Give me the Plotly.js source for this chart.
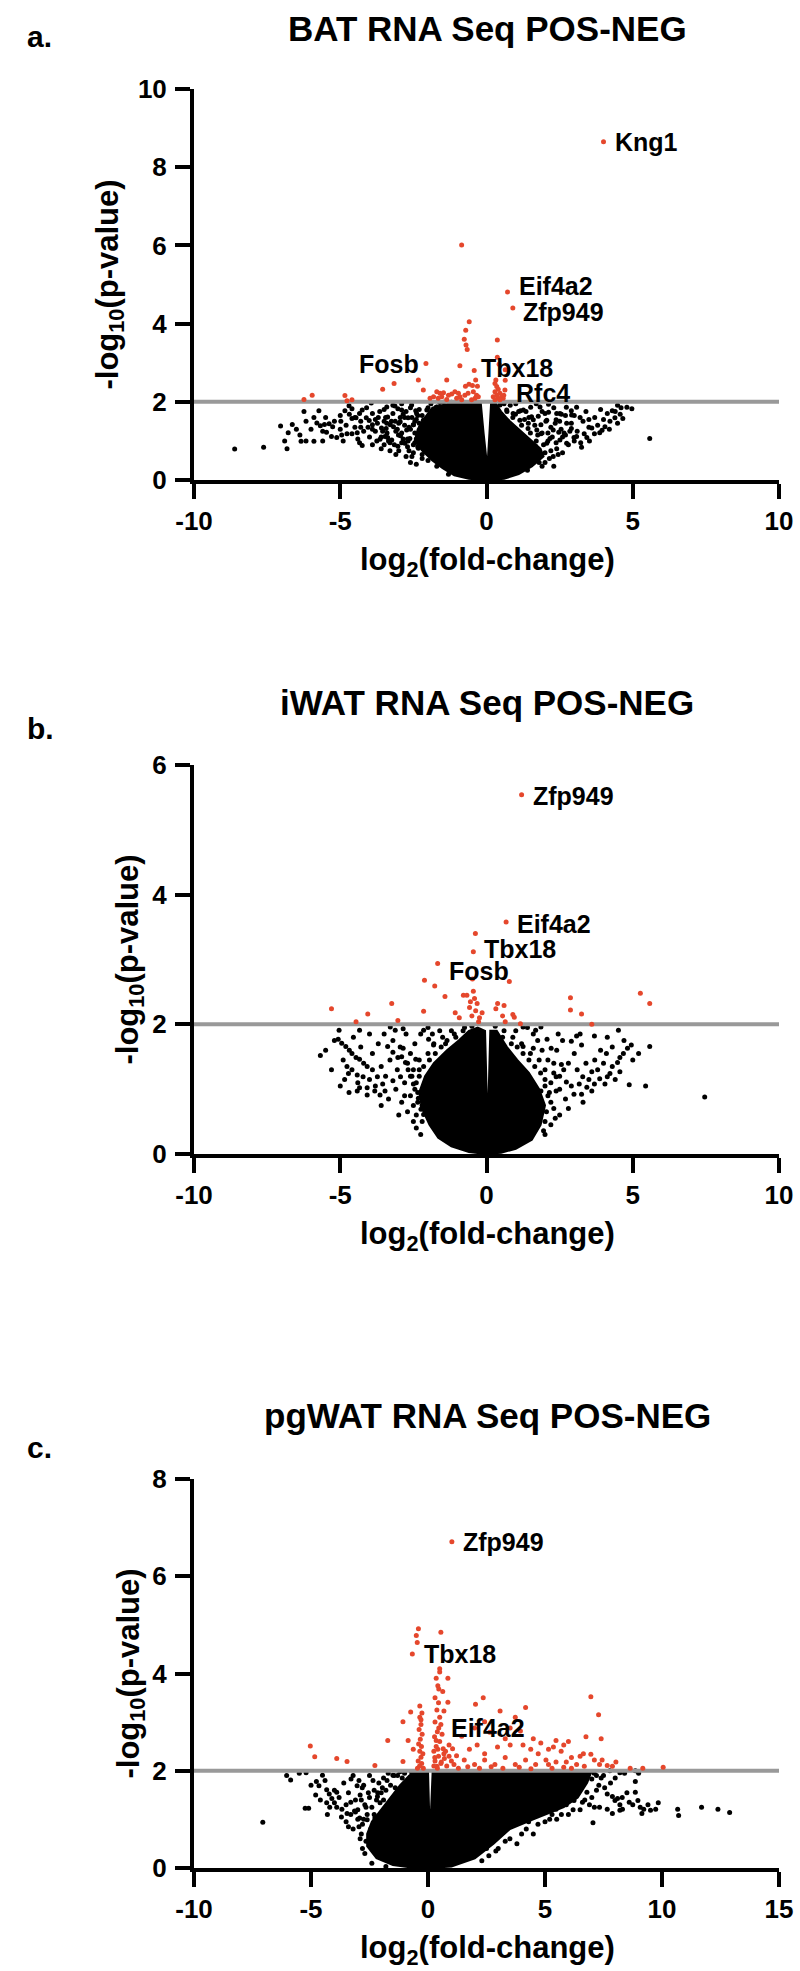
<!DOCTYPE html>
<html>
<head>
<meta charset="utf-8">
<script src="https://cdn.plot.ly/plotly-3.0.1.min.js"></script>
<style>html,body{margin:0;padding:0;background:#fff;}#chart{width:800px;height:1971px;}</style>
</head>
<body>
<div id="chart"></div>
<script>
// ---------------- DATA ----------------
const threshold = 2;
const panelTitles = ['BAT RNA Seq POS-NEG', 'iWAT RNA Seq POS-NEG', 'pgWAT RNA Seq POS-NEG'];
const panelLetters = ['a.', 'b.', 'c.'];
const xRanges = [[-10, 10], [-10, 10], [-10, 15]];
const yRanges = [[0, 10], [0, 6], [0, 8]];
const xTicks = [[-10, -5, 0, 5, 10], [-10, -5, 0, 5, 10], [-10, -5, 0, 5, 10, 15]];
const xTickText = [['-10', '-5', '0', '5', '10'], ['-10', '-5', '0', '5', '10'], ['-10', '-5', '0', '5', '10', '15']];
const yTicks = [[0, 2, 4, 6, 8, 10], [0, 2, 4, 6], [0, 2, 4, 6, 8]];

// Panel a (BAT)
const aRed = [[4.0,8.65],[0.72,4.81],[0.9,4.4],[-0.85,6.01],[-0.59,4.05],[-0.71,3.83],[-0.76,3.6],[-0.7,3.45],[-0.66,3.34],
 [0.37,3.58],[0.37,3.14],[0.43,2.96],[-0.91,2.92],[-0.42,2.8],[0.64,2.82],[-2.07,2.98],[-2.33,2.56],[-1.36,2.56],[-3.16,2.47],
 [-3.55,2.32],[-2.16,2.3],[-6.24,2.06],[-5.96,2.17],[-4.84,2.16],[-4.77,2.03],[-4.6,2.05],[-0.37,2.56],[-0.6,2.45],[-0.48,2.42],
 [-0.31,2.4],[-0.72,2.4],[-1.7,2.26],[-1.59,2.22],[-1.47,2.23],[-1.3,2.17],[-1.19,2.2],[-1.08,2.26],[-0.96,2.22],[-0.91,2.13],
 [-0.74,2.17],[-0.63,2.22],[-0.45,2.26],[-0.34,2.17],[-0.28,2.13],[-1.81,2.13],[-1.93,2.09],[-1.65,2.09],[-1.53,2.13],[-1.36,2.06],
 [-1.02,2.09],[-0.85,2.05],[-0.51,2.05],[-0.39,2.09],[0.29,2.47],[0.35,2.39],[0.4,2.32],[0.29,2.26],[0.46,2.22],[0.35,2.17],
 [0.52,2.13],[0.57,2.09],[0.23,2.13],[0.4,2.09],[0.59,2.17],[0.63,2.3],[0.32,2.56],[0.46,2.05],[0.29,2.05],[0.64,2.55]];
const aBlack = [[-8.61,0.79],[-7.62,0.84],[-6.82,0.8],[-7.04,1.38],[-6.78,1.21],[-6.64,1.42],[-6.38,1.15],[-6.24,1.75],[-6.34,0.99],
 [-6.17,1.0],[-5.8,1.46],[-5.68,1.39],[-5.54,1.42],[-5.38,1.44],[-5.26,1.36],[-5.47,1.22],[-5.3,1.11],[-5.12,1.09],[-4.95,1.15],
 [-4.77,1.18],[-4.6,1.18],[-4.42,1.21],[-4.84,1.77],[-4.69,1.68],[-4.6,1.57],[-4.46,1.59],[-4.34,1.7],[-4.25,1.79],[-4.11,1.59],
 [-4.01,1.52],[-3.9,1.41],[-3.73,1.45],[-3.59,1.33],[-3.43,1.32],[-3.29,1.41],[-3.12,1.5],[-3.38,1.61],[-3.94,1.97],[-3.2,1.91],
 [-3.03,1.82],[-2.85,1.68],[-2.68,1.59],[-2.5,1.41],[-2.42,1.77],[-4.34,0.95],[-4.25,0.88],[-3.64,1.04],[-3.38,1.09],[-2.94,1.13],
 [-2.68,1.0],[-2.33,1.04],[-2.16,1.22],[-1.98,1.5],[-1.81,1.77],[-1.72,1.86],[-5.9,0.99],[-4.98,1.5],[-4.6,1.82],[-5.73,1.77],
 [-6.17,1.5],[-3.03,0.86],[-2.33,0.81],[-1.98,0.77],
 [5.58,1.06],[4.97,1.82],[4.8,1.86],[4.48,1.91],[4.3,1.77],[4.13,1.7],[4.57,1.68],[4.39,1.59],[4.66,1.57],[4.48,1.45],[4.22,1.5],
 [4.05,1.36],[3.95,1.27],[3.87,1.21],[3.69,1.18],[3.43,1.09],[3.52,1.0],[3.22,0.95],[3.25,0.84],[2.99,1.09],[2.9,1.32],[3.08,1.86],
 [2.9,1.77],[2.73,1.86],[2.56,1.68],[2.47,1.22],[2.7,1.15],[2.38,1.54],[2.12,1.73],[2.03,1.5],[1.86,1.41],[1.77,1.63],[1.6,1.54],
 [1.51,1.86],[1.16,1.77],[1.42,1.32],[1.86,1.18],[2.17,1.06],[2.38,0.95],[1.68,0.86],[0.81,1.91],[0.99,1.68],[0.72,1.5],[2.12,1.94],
 [3.34,1.18],[3.6,1.33],
 [-3.41,1.87],[-3.13,1.89],[-2.9,1.79],[-2.56,1.92],[-2.39,1.7],[-3.41,1.45],[-3.18,1.36],[-2.95,1.49],[-2.73,1.28],[-2.5,1.41],
 [-3.47,1.11],[-3.24,1.02],[-3.01,1.15],[-2.79,0.94],[-2.62,1.06],[-2.27,1.11],[-2.16,1.53],[-2.04,1.79],[1.26,1.79],[1.54,1.62],
 [1.83,1.87],[2.06,1.53],[2.28,1.28],[2.51,1.7],[2.74,1.45],[2.91,1.66],[3.08,1.11],[2.74,0.94],[2.51,1.02],[2.06,0.94],[1.72,1.28],
 [1.43,1.45],[1.14,1.53],[0.91,1.7],[0.69,1.79],[0.46,1.92],[1.83,0.68],[2.28,0.6],[-1.7,1.87],[-1.36,1.83],[-1.02,1.92],[-0.68,1.86],
 [-1.47,1.99],[-0.79,1.99],[-0.45,1.94],[-2.5,0.7],[-2.2,0.55],[2.0,0.45],[2.3,0.35],
 [-6.0,1.3],[-5.9,1.6],[-5.6,1.25],[-5.5,1.6],[-5.2,1.5],[-5.0,1.3],[-5.0,1.65],[-4.9,1.0],[-4.8,1.4],[-4.7,1.9],[-4.5,1.35],
 [-4.4,1.05],[-4.3,1.5],[-4.2,1.25],[-4.1,1.85],[-4.0,1.1],[-3.9,1.7],[-3.8,1.25],[-3.7,1.6],[-3.6,1.1],[-3.5,1.5],[-3.5,1.8],
 [-3.4,1.2],[-3.3,0.95],[-3.2,1.7],[-3.1,1.25],[-3.0,1.45],[-3.0,0.75],[-2.9,1.95],[-2.85,1.05],[-2.8,1.6],[-2.7,0.85],[-2.65,1.35],
 [-2.6,1.85],[-2.55,0.6],[-2.45,1.2],[-2.4,1.55],[-2.35,0.85],[-2.3,1.8],[-2.25,1.35],[-2.2,1.65],[-2.6,0.45],[-2.4,0.4],[-3.6,0.8],
 [-3.9,0.9],[-5.6,1.0],[-6.5,1.3],[-6.9,1.0],
 [1.9,1.2],[2.0,1.7],[2.1,1.0],[2.2,1.35],[2.3,1.85],[2.4,0.8],[2.5,1.5],[2.6,1.1],[2.7,1.65],[2.8,0.9],[2.9,1.45],[3.0,1.65],
 [3.1,1.25],[3.3,1.5],[3.4,1.75],[3.5,1.35],[3.7,1.6],[3.8,1.4],[3.9,1.8],[4.0,1.55],[4.2,1.3],[4.4,1.75],[4.6,1.85],[1.6,0.6],
 [1.9,0.35],[2.2,0.75],[2.6,0.7],[1.3,1.55],[1.1,1.75],[0.6,1.95],[1.0,1.95],[1.7,1.95],
 [-2.45,0.95],[-2.35,1.15],[-2.3,1.45],[-2.1,1.45],[-2.0,1.85],[-1.9,1.95],[-1.6,1.98],[-1.2,1.99],[-0.5,1.99],[-2.2,0.65],
 [-2.0,0.5],[-1.7,0.35],[-1.3,0.15],[1.7,1.0],[1.5,1.2],[1.2,1.4],[0.9,1.6],[0.7,1.75],[2.0,0.7],[1.8,0.45],[1.4,0.25],
 [-3.9,1.3],[-3.75,1.0],[-3.65,1.75],[-3.55,1.25],[-3.45,1.6],[-3.35,1.0],[-3.25,1.5],[-3.15,0.9],[-3.05,1.3],[-2.95,1.6],
 [-2.9,1.2],[-2.8,1.4],[-2.75,1.75],[-2.7,1.05],[-2.6,1.3],[-2.55,1.6],[-2.5,0.9],[-2.45,1.5],[-2.4,1.05],[-2.35,1.65],[-2.65,0.75],
 [-2.75,0.6],[-2.9,0.95],[-3.1,0.65],[-3.3,0.75],[-3.5,0.9],[-3.8,1.55],[-4.05,1.35],[-4.3,1.35],[-4.5,1.6],
 [1.95,0.9],[2.1,1.2],[2.25,1.1],[2.35,1.45],[2.45,0.65],[2.55,1.3],[1.75,1.15],[1.65,1.4],[1.45,1.6],[1.35,1.75],[2.15,0.55],
 [2.4,1.7],[2.65,1.2],[2.85,1.25],[3.0,1.0],[3.2,1.6],[3.5,1.55],[1.9,1.75]];
const aCore = [[0,0],[-0.6,0.03],[-1.1,0.12],[-1.5,0.3],[-1.85,0.5],[-2.2,0.75],[-2.45,1.0],[-2.35,1.3],[-2.1,1.6],[-1.85,1.85],
 [-1.3,1.95],[-0.8,1.97],[-0.2,2.0],[-0.1,1.2],[0.03,0.3],[0.1,1.2],[0.16,2.0],[0.3,1.98],[0.5,1.75],[0.8,1.5],[1.1,1.3],
 [1.45,1.05],[1.85,0.8],[1.95,0.6],[1.55,0.35],[1.1,0.15],[0.6,0.03],[0,0]];
const aGenes = ['Kng1','Eif4a2','Zfp949','Fosb','Tbx18','Rfc4'];
const aGenePts = [[4.0,8.65],[0.72,4.81],[0.9,4.4],[-2.07,2.98],[-0.42,2.8],[0.63,2.3]];

// Panel b (iWAT)
const bRed = [[1.2,5.54],[0.67,3.58],[-0.38,3.4],[-0.45,3.12],[-1.67,2.94],[-2.12,2.68],[-1.77,2.59],[-0.48,2.7],[0.78,2.66],
 [-1.42,2.43],[-0.79,2.45],[-0.67,2.45],[-0.45,2.51],[-0.41,2.4],[-0.55,2.35],[-0.32,2.32],[-0.58,2.26],[-0.37,2.21],[-0.5,2.13],
 [-0.24,2.1],[-0.93,2.1],[-0.27,2.04],[-0.15,2.18],[-1.07,2.18],[0.38,2.32],[0.6,2.29],[0.32,2.24],[0.55,2.13],[0.9,2.15],
 [0.95,2.11],[0.64,2.04],[1.16,2.01],[-5.3,2.24],[-4.46,2.04],[-4.06,2.16],[-3.24,2.32],[-3.03,2.06],[-2.15,2.2],[2.87,2.41],
 [2.87,2.22],[3.25,2.16],[3.6,2.0],[5.26,2.48],[5.58,2.32]];
const bBlack = [[7.46,0.88],[-5.68,1.52],[5.58,1.66],[5.44,1.05],[4.88,1.07],[4.51,1.91],[4.95,1.68],[4.82,1.63],[4.68,1.55],
 [4.56,1.49],[4.48,1.41],[4.56,1.27],[4.3,1.35],[4.22,1.24],[4.13,1.19],[4.05,1.08],[3.87,1.16],[3.69,1.08],[3.6,0.97],[3.43,1.03],
 [3.25,0.92],[3.17,1.08],[3.29,1.19],[3.6,1.27],[4.13,1.8],[3.69,1.82],[3.25,1.68],[2.9,1.74],[3.08,1.82],[2.56,1.38],[2.64,1.3],
 [2.38,1.19],[2.21,1.63],[2.07,1.77],[1.86,1.96],[1.6,1.63],[1.25,1.66],[1.25,1.96],[1.68,1.91],[1.86,0.97],[1.95,0.36],[2.38,0.97],
 [2.99,0.92],[2.73,1.11],
 [-5.07,1.77],[-4.95,1.71],[-4.81,1.66],[-4.69,1.6],[-4.6,1.55],[-4.46,1.49],[-4.34,1.46],[-4.77,1.35],[-4.72,1.24],[-4.42,1.22],
 [-4.22,1.19],[-4.08,1.35],[-3.9,1.3],[-3.73,1.19],[-3.55,1.08],[-3.47,0.97],[-4.34,1.02],[-4.42,0.97],[-4.08,1.02],[-3.82,0.97],
 [-3.38,1.66],[-3.2,1.57],[-3.03,1.49],[-2.85,1.63],[-2.77,1.41],[-2.68,1.3],[-2.94,1.19],[-3.2,1.13],[-3.29,1.96],[-3.12,1.91],
 [-2.85,1.93],[-4.34,1.91],[-5.04,1.91],[-2.5,1.08],[-2.33,0.86],[-2.24,0.69],[-2.15,0.61],[-2.42,1.46],[-2.15,1.91],[-1.98,1.77],
 [-1.81,1.68],[-4.08,0.91],[-3.64,0.91],
 [-2.4,1.1],[-2.6,0.9],[-2.5,1.3],[-2.3,1.45],[-2.0,1.55],[-1.8,1.7],[-1.5,1.8],[-1.2,1.9],[-2.2,0.5],[-2.4,0.6],[2.1,0.9],
 [2.2,1.1],[2.0,1.3],[1.8,1.45],[1.5,1.55],[1.2,1.7],[0.9,1.8],[0.6,1.9],[2.3,0.7],[2.0,0.5],[-0.5,1.97],[-0.8,1.9],[0.3,1.97],
 [-5.5,1.6],[-5.3,1.3],[-5.2,1.75],[-4.9,1.45],[-4.85,1.15],[-4.6,1.3],[-4.55,1.8],[-4.4,1.1],[-4.3,1.65],[-4.2,1.4],[-4.0,1.85],
 [-4.0,1.15],[-3.9,1.55],[-3.8,1.05],[-3.7,1.7],[-3.6,1.35],[-3.5,1.85],[-3.45,1.2],[-3.35,0.85],[-3.3,1.45],[-3.2,1.75],[-3.1,1.0],
 [-3.05,1.3],[-2.95,1.65],[-2.9,0.8],[-2.8,1.1],[-2.75,1.85],[-2.7,0.65],[-2.6,1.55],[-2.55,1.2],[-2.5,0.75],[-2.45,1.7],[-2.35,0.95],
 [-2.3,1.3],[-2.25,1.85],[-2.2,0.75],[-2.0,1.95],[-1.85,1.85],[-1.6,1.9],[-1.4,1.7],[-1.1,1.85],[-2.4,0.4],[-2.25,0.3],[-3.0,0.6],
 [-3.6,0.75],[-4.7,0.95],[-5.0,1.05],
 [1.9,1.6],[2.0,1.05],[2.1,1.45],[2.2,0.8],[2.3,1.25],[2.4,1.6],[2.5,1.0],[2.6,1.75],[2.7,0.85],[2.8,1.4],[2.9,1.05],[3.0,1.55],
 [3.1,1.3],[3.2,1.85],[3.4,1.4],[3.5,1.15],[3.7,1.45],[3.8,1.3],[3.9,1.6],[4.0,1.4],[4.1,1.55],[4.3,1.65],[4.4,1.15],[4.7,1.75],
 [5.0,1.45],[5.2,1.55],[1.6,1.85],[1.4,1.95],[1.0,1.9],[2.2,0.45],[2.0,0.3],[2.5,0.6],[2.8,0.7],[3.3,0.8],
 [-2.5,0.5],[-2.35,0.8],[-2.45,1.0],[-2.6,1.2],[-2.3,1.2],[-2.15,1.35],[-1.95,1.45],[-1.75,1.55],[-1.55,1.65],[-1.35,1.75],
 [-1.05,1.8],[-0.75,1.95],[-2.7,1.4],[-2.9,1.5],[-2.8,0.9],[2.05,0.65],[2.15,0.95],[2.0,1.15],[1.85,1.25],[1.65,1.35],[1.45,1.45],
 [1.25,1.55],[1.05,1.65],[0.85,1.7],[0.55,1.8],[2.3,1.4],[2.5,1.2],[2.35,0.55],[1.75,1.75],[2.45,1.85]];
const bCore = [[0,0],[-0.6,0.03],[-1.2,0.12],[-1.65,0.25],[-1.95,0.45],[-2.2,0.7],[-2.3,0.95],[-2.1,1.2],[-1.8,1.4],[-1.35,1.6],
 [-0.95,1.75],[-0.6,1.9],[-0.3,1.95],[-0.05,1.9],[0.04,0.35],[0.13,1.9],[0.35,1.9],[0.7,1.65],[1.05,1.45],[1.45,1.25],[1.8,1.0],
 [2.0,0.75],[1.85,0.45],[1.55,0.22],[1.0,0.08],[0.5,0.02],[0,0]];
const bGenes = ['Zfp949','Eif4a2','Tbx18','Fosb'];
const bGenePts = [[1.2,5.54],[0.67,3.58],[-0.45,3.12],[-1.67,2.94]];

// Panel c (pgWAT)
const cRed = [[1.02,6.71],[-0.41,4.92],[-0.5,4.78],[0.55,4.85],[-0.46,4.64],[-0.67,4.4],[0.5,4.1],[0.5,4.03],[0.85,3.9],
 [0.46,3.68],[0.63,3.63],[0.85,3.41],[2.36,3.5],[2.03,3.37],[6.96,3.52],[7.29,3.15],[4.17,3.3],[3.73,3.1],[3.08,3.23],[7.4,2.66],
 [6.75,2.7],[6.64,2.35],[-0.35,3.33],[-0.26,3.19],[-0.74,3.21],[-1.07,3.01],[-1.72,2.62],[-5.03,2.51],[-4.84,2.29],[-3.9,2.25],
 [-3.46,2.19],[-2.27,2.11],[-1.07,2.19],[-0.85,2.62],[-0.63,2.44],[9.18,2.05],[10.05,2.07],[8.64,2.05],[8.03,2.18],[7.88,2.09],
 [7.33,2.13],[7.11,2.22],[6.96,2.34],[5.69,2.4],[5.8,2.53],[5.47,2.62],[5.36,2.49],[5.15,2.44],[4.82,2.57],[4.71,2.35],[4.5,2.66],
 [4.39,2.44],[4.06,2.53],[3.95,2.82],[3.51,2.53],[3.3,2.66],[2.97,2.49],[2.64,2.79],[2.42,2.35],[2.1,2.53],[1.77,2.44],[1.44,2.71],
 [1.22,2.31],[5.91,2.18],[6.13,2.27],[6.35,2.13],[5.47,2.18],[5.04,2.22],[4.6,2.13],[4.17,2.22],[3.73,2.13],[3.3,2.27],[2.86,2.13],
 [2.42,2.22],[1.99,2.13],[1.55,2.22],[1.11,2.13],[0.9,2.53],[0.68,2.35],[0.57,2.18],[0.46,2.88],[0.35,2.62],[0.42,2.44],[0.29,2.27],
 [0.38,2.09],[0.68,3.23],[1.99,2.88],[2.42,3.01],[3.51,2.88],[5.15,2.13],[6.68,2.09],[6.13,2.05],[7.44,2.22],[7.66,2.11],
 [-0.35,3.1],[-0.3,2.95],[-0.38,2.85],[-0.25,2.75],[-0.33,2.65],[-0.4,2.55],[-0.28,2.5],[-0.35,2.4],[-0.22,2.35],[-0.3,2.28],
 [-0.42,2.2],[-0.27,2.15],[-0.36,2.1],[-0.2,2.05],[-0.45,2.05],[-0.3,3.05],
 [0.35,3.9],[0.42,3.75],[0.3,3.5],[0.45,3.4],[0.38,3.25],[0.5,3.1],[0.3,3.0],[0.55,2.95],[0.4,2.8],[0.6,2.75],[0.28,2.7],[0.5,2.6],
 [0.35,2.5],[0.65,2.45],[0.25,2.4],[0.45,2.3],[0.7,2.25],[0.3,2.2],[0.55,2.15],[0.25,2.1],[0.4,2.05],[0.8,2.1],[0.75,2.4],[0.9,2.3],
 [1.0,2.2],[1.05,2.45],[1.3,2.05],[1.7,2.08],[2.2,2.05],[2.7,2.08],[3.2,2.05],[3.9,2.07],[4.4,2.04],[5.3,2.05],[5.8,2.07],[6.5,2.3],[6.0,2.6]];
const cBlack = [[-7.06,0.94],[-6.04,1.9],[-5.87,1.81],[-5.21,1.96],[-5.25,1.23],[-5.1,1.23],[-4.51,1.91],[-4.77,1.78],[-4.66,1.69],
 [-4.33,1.61],[-4.22,1.52],[-4.11,1.43],[-4.0,1.34],[-3.9,1.25],[-3.68,1.21],[-3.29,1.83],[-3.03,1.69],[-2.81,1.65],[-3.46,1.12],
 [-3.14,1.17],[-2.92,1.03],[-2.6,0.99],[-2.27,1.03],[-2.16,1.47],[-2.05,1.34],[-1.5,1.91],[-1.83,1.17],[-4.33,1.34],[-3.9,1.56],
 [7.05,0.93],[7.11,1.25],[7.33,1.25],[7.55,1.65],[7.66,1.52],[7.88,1.47],[7.99,1.39],[8.1,1.43],[8.2,1.3],[8.31,1.21],[7.66,1.21],
 [7.88,1.12],[8.2,1.19],[8.86,1.78],[8.86,1.56],[8.97,1.39],[8.75,1.3],[9.07,1.25],[9.22,1.21],[9.4,1.3],[9.51,1.19],[9.73,1.21],
 [9.84,1.34],[9.14,1.12],[10.67,1.21],[10.71,1.08],[11.69,1.25],[12.39,1.21],[12.89,1.14],[8.86,2.0],[8.2,1.96],[7.77,2.0],
 [7.0,1.83],[6.79,1.87],[6.57,1.69],[6.35,1.56],[6.24,1.39],[5.91,1.3],[5.47,1.21],[5.15,1.21],[4.82,1.21],[6.79,1.56],
 [-2.9,1.5],[-2.7,1.3],[-2.5,1.45],[-2.3,1.6],[-2.1,1.75],[-1.9,1.85],[-1.7,1.95],[-2.8,0.9],[-3.0,1.0],[-2.6,1.1],[-2.4,1.25],
 [-1.8,1.6],[-1.3,1.9],[-1.0,1.95],[-3.2,0.8],[-2.9,0.6],[-3.3,1.1],[-3.5,1.3],[-3.1,1.4],[-2.8,0.4],
 [3.5,0.6],[4.2,0.8],[5.0,0.95],[5.5,1.0],[6.0,1.1],[3.0,0.4],[4.5,0.7],[6.5,1.2],[3.8,0.5],[2.6,0.25],[7.2,1.6],[7.4,1.85],
 [-5.5,1.95],[-5.0,1.7],[-4.8,1.5],[-4.6,1.4],[-4.4,1.8],[-4.2,1.25],[-4.0,1.6],[-3.8,1.45],[-3.7,1.05],[-3.6,1.75],[-3.4,1.55],
 [-3.3,1.35],[-3.2,1.9],[-3.0,1.2],[-2.95,1.8],[-2.85,1.4],[-2.75,1.7],[-2.65,0.55],[-2.5,1.9],[-2.45,0.8],[-2.3,1.1],[-2.2,1.4],
 [-2.0,1.55],[-1.9,1.4],[-1.6,1.7],[-1.4,1.65],[-1.1,1.85],[-0.7,1.97],[-2.7,0.3],[-3.5,0.95],[-4.3,1.1],
 [7.1,1.95],[7.3,1.7],[7.5,1.9],[7.8,1.75],[8.0,1.85],[8.4,1.95],[8.5,1.55],[8.3,1.45],[8.6,1.35],[9.0,1.95],[7.0,1.45],[6.9,1.3],
 [6.6,1.35],[6.2,1.2],[5.7,1.1],[5.2,1.0],[4.7,0.9],[4.0,0.7],[3.3,0.55],[2.9,0.35],[2.3,0.15],[6.0,1.45],[5.5,1.35],[4.9,1.15],
 [-2.4,0.1],[-1.8,0.03],
 [-2.85,0.7],[-2.75,1.0],[-2.65,1.25],[-2.55,1.55],[-2.35,1.8],[-2.15,1.55],[-1.95,1.65],[-1.75,1.8],[-1.45,1.9],[-1.2,1.98],
 [-2.95,0.85],[-3.1,1.15],[-3.4,0.85],[4.3,0.95],[5.3,1.1],[6.7,1.4],[7.2,1.9],[3.1,0.7],[2.5,0.4],[1.8,0.25]];
const cCore = [[0,0],[-0.7,0.01],[-1.5,0.06],[-2.2,0.2],[-2.6,0.45],[-2.6,0.7],[-2.4,0.95],[-2.0,1.2],[-1.6,1.45],[-1.2,1.7],
 [-0.8,1.9],[-0.5,2.0],[0.0,2.0],[0.08,0.6],[0.2,2.0],[7.0,2.0],[6.8,1.75],[6.4,1.45],[5.8,1.25],[5.0,1.1],[4.5,1.0],[3.5,0.8],
 [2.8,0.5],[2.0,0.2],[1.0,0.03],[0,0]];
const cGenes = ['Zfp949','Tbx18','Eif4a2'];
const cGenePts = [[1.02,6.71],[-0.67,4.4],[0.46,2.88]];

// ---------------- BUILD ----------------
const W = 800, H = 1971;
const FONT = 'Liberation Sans, Arial, sans-serif';
const RED = '#E5472C';
const px = v => v / W;
const py = v => 1 - v / H;

const panels = [
  {red: aRed, black: aBlack, core: aCore, genes: aGenes, genePts: aGenePts, top: 89, bottom: 480},
  {red: bRed, black: bBlack, core: bCore, genes: bGenes, genePts: bGenePts, top: 765, bottom: 1154},
  {red: cRed, black: cBlack, core: cCore, genes: cGenes, genePts: cGenePts, top: 1479, bottom: 1868}
];
// label placement: [xanchor, xshift, yshift]
const labelPlace = [
  [['left',9,0],['left',9,6],['left',8,-4],['right',-5,-1],['left',5,3],['left',9,-3]],
  [['left',9,-1],['left',9,-2],['left',9,3],['left',9,-8]],
  [['left',9,0],['left',10,0],['left',10,0]]
];
const titleY = [28, 702, 1415];
const letterY = [37, 729, 1447];
const yTitleX = [110, 129, 130];

const traces = [];
const layout = {
  width: W, height: H, margin: {l: 0, r: 0, t: 0, b: 0},
  paper_bgcolor: '#fff', plot_bgcolor: '#fff', showlegend: false,
  font: {family: FONT, color: '#000'},
  annotations: [], shapes: []
};

panels.forEach((p, i) => {
  const n = i === 0 ? '' : String(i + 1);
  const xa = 'x' + n, ya = 'y' + n;
  traces.push({x: p.core.map(d => d[0]), y: p.core.map(d => d[1]), xaxis: xa, yaxis: ya, type: 'scatter', mode: 'lines',
    fill: 'toself', fillcolor: '#000', line: {color: '#000', width: 2}, hoverinfo: 'skip'});
  traces.push({x: p.black.map(d => d[0]), y: p.black.map(d => d[1]), xaxis: xa, yaxis: ya, type: 'scatter', mode: 'markers',
    marker: {color: '#000', size: 5}});
  traces.push({x: xRanges[i], y: [threshold, threshold], xaxis: xa, yaxis: ya, type: 'scatter', mode: 'lines',
    line: {color: '#999999', width: 4}});
  traces.push({x: p.red.map(d => d[0]), y: p.red.map(d => d[1]), xaxis: xa, yaxis: ya, type: 'scatter', mode: 'markers',
    marker: {color: RED, size: 5}});

  const dom = [py(p.bottom), py(p.top)];
  layout['xaxis' + n] = {
    domain: [px(194), px(779)], anchor: ya, range: xRanges[i], tickvals: xTicks[i], ticktext: xTickText[i],
    ticks: 'outside', ticklen: 15, tickwidth: 4, tickcolor: '#000', showline: true, linewidth: 4, linecolor: '#000',
    showgrid: false, zeroline: false, ticklabelstandoff: 0,
    tickfont: {family: FONT, size: 26, color: '#000', weight: 700}, fixedrange: true
  };
  layout['yaxis' + n] = {
    domain: dom, anchor: xa, range: yRanges[i], tickvals: yTicks[i],
    ticks: 'outside', ticklen: 15, tickwidth: 4, tickcolor: '#000', showline: true, linewidth: 4, linecolor: '#000',
    showgrid: false, zeroline: false, ticklabelstandoff: 3,
    tickfont: {family: FONT, size: 26, color: '#000', weight: 700}, fixedrange: true
  };

  layout.annotations.push({xref: 'paper', yref: 'paper', x: px(487), y: py(titleY[i]), xanchor: 'center', yanchor: 'middle',
    text: panelTitles[i], showarrow: false, font: {family: FONT, size: 35, color: '#000', weight: 700}});
  layout.annotations.push({xref: 'paper', yref: 'paper', x: px(25), y: py(letterY[i]), xanchor: 'left', yanchor: 'middle',
    text: panelLetters[i], showarrow: false, font: {family: FONT, size: 30, color: '#000', weight: 700}});
  layout.annotations.push({xref: 'paper', yref: 'paper', x: px(yTitleX[i]), y: py((p.top + p.bottom) / 2), xanchor: 'center', yanchor: 'middle',
    text: '-log<sub>10</sub>(p-value)', textangle: -90, showarrow: false, font: {family: FONT, size: 31, color: '#000', weight: 700}});
  layout.annotations.push({xref: 'paper', yref: 'paper', x: px(487), y: py(p.bottom + 82), xanchor: 'center', yanchor: 'middle',
    text: 'log<sub>2</sub>(fold-change)', showarrow: false, font: {family: FONT, size: 31, color: '#000', weight: 700}});
  p.genes.forEach((g, k) => {
    const pl = labelPlace[i][k];
    layout.annotations.push({xref: xa, yref: ya, x: p.genePts[k][0], y: p.genePts[k][1], xanchor: pl[0], yanchor: 'middle',
      xshift: pl[1], yshift: pl[2], text: g, showarrow: false, font: {family: FONT, size: 25, color: '#000', weight: 700}});
  });
});

Plotly.newPlot('chart', traces, layout, {staticPlot: true, displayModeBar: false});
</script>
</body>
</html>
